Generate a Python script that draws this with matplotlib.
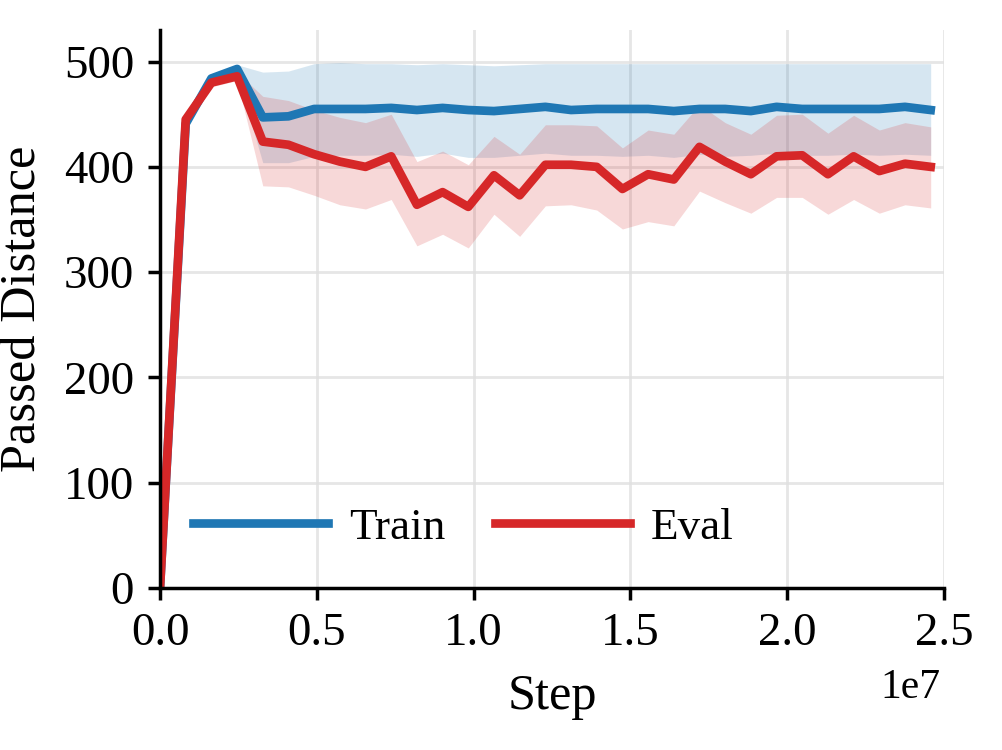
import matplotlib
matplotlib.use("Agg")
import matplotlib.pyplot as plt

steps = [0, 819200, 1638400, 2457600, 3276800, 4096000, 4915200, 5734400, 6553600,
         7372800, 8192000, 9011200, 9830400, 10649600, 11468800, 12288000, 13107200,
         13926400, 14745600, 15564800, 16384000, 17203200, 18022400, 18841600,
         19660800, 20480000, 21299200, 22118400, 22937600, 23756800, 24576000]

train_mean = [0, 441, 484, 493, 447, 448, 455, 455, 455, 456, 454, 456, 454, 453, 455,
              457, 454, 455, 455, 455, 453, 455, 455, 453, 457, 455, 455, 455, 455, 457, 454]
train_low = [0, 436, 479, 488, 404, 404, 410, 411, 411, 412, 410, 413, 409, 409, 411,
             413, 411, 411, 410, 411, 409, 412, 410, 411, 413, 411, 411, 412, 411, 412, 411]
train_high = [0, 446, 488, 497, 490, 491, 498, 499, 498, 498, 497, 498, 497, 496, 497,
              498, 498, 498, 498, 498, 498, 498, 498, 498, 498, 498, 498, 498, 498, 498, 498]

eval_mean = [0, 445, 480, 486, 424, 421, 412, 405, 400, 410, 364, 376, 362, 392, 373,
             402, 402, 400, 379, 393, 388, 419, 405, 393, 410, 411, 393, 410, 396, 403, 400]
eval_low = [0, 440, 476, 482, 382, 381, 373, 364, 360, 369, 325, 336, 323, 355, 334,
            363, 364, 359, 341, 348, 344, 377, 366, 356, 371, 371, 355, 369, 356, 364, 361]
eval_high = [0, 450, 484, 490, 467, 463, 454, 447, 442, 450, 405, 415, 402, 429, 412,
             440, 440, 439, 418, 435, 431, 459, 442, 431, 449, 450, 432, 449, 435, 442, 438]

labels = ["Train", "Eval"]
colors = ["#1f77b4", "#d62728"]
x_scale_label = "1e7"

plt.rcParams["font.family"] = ["Liberation Serif", "DejaVu Serif"]
plt.rcParams["font.size"] = 13

fig = plt.figure(figsize=(4.008, 3.0), dpi=250)
ax = fig.add_axes([0.1597, 0.216, 0.7824, 0.744])

for mean, lo, hi, lab, c in [(train_mean, train_low, train_high, labels[0], colors[0]),
                             (eval_mean, eval_low, eval_high, labels[1], colors[1])]:
    ax.fill_between(steps, lo, hi, color=c, alpha=0.18, linewidth=0)
    ax.plot(steps, mean, color=c, lw=2.5, label=lab)

ax.set_xlim(0, 2.5e7)
ax.set_ylim(0, 530)
ax.set_yticks([0, 100, 200, 300, 400, 500])
ax.set_xticks([0, 0.5e7, 1.0e7, 1.5e7, 2.0e7, 2.5e7])
ax.ticklabel_format(axis="x", style="sci", scilimits=(0, 0))
ax.xaxis.get_offset_text().set_visible(False)
ax.text(0.995, -0.198, x_scale_label, transform=ax.transAxes, ha="right",
        va="baseline", fontsize=12)
ax.grid(True, color="#e0e0e0", lw=0.8, alpha=0.8)
ax.set_axisbelow(True)
for s in ["top", "right"]:
    ax.spines[s].set_visible(False)
for s in ["left", "bottom"]:
    ax.spines[s].set_linewidth(1.0)
ax.tick_params(direction="out", length=3.5, width=1.0, labelsize=13.5)
ax.tick_params(axis="y", pad=4.0)
ax.set_xlabel("Step", fontsize=14.5, labelpad=5.5)
ax.set_ylabel("Passed Distance", fontsize=14.5, labelpad=5)

ax.legend(loc="lower left", bbox_to_anchor=(0.019, 0.04), borderaxespad=0, ncol=2,
          frameon=False, fontsize=13, handlelength=3.0, handletextpad=0.45,
          columnspacing=1.1)

fig.savefig("out.png", dpi=250)
